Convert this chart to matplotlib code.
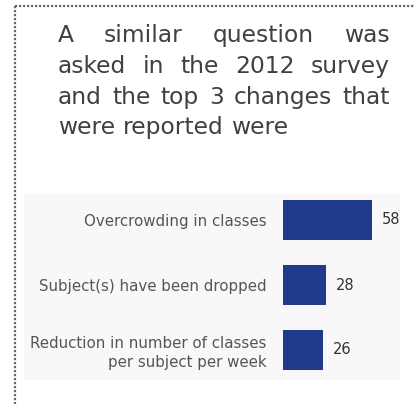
import matplotlib.pyplot as plt
from matplotlib.patches import Rectangle
from matplotlib.lines import Line2D

# survey responses (%)
categories = ['Overcrowding in classes',
              'Subject(s) have been dropped',
              'Reduction in number of classes\nper subject per week']
values = [58, 28, 26]

heading = ['A similar question was',
           'asked in the 2012 survey',
           'and the top 3 changes that',
           'were reported were']

W, H = 415, 404
fig = plt.figure(figsize=(W / 100, H / 100), dpi=100)

def fx(px):
    return px / W

def fy(py):
    return 1 - py / H

# dotted frame along top and left
frame = dict(color='#5b6d76', lw=1.6, linestyle=(0, (1, 0.8)))
fig.add_artist(Line2D([fx(15), 1.0], [fy(6), fy(6)], **frame))
fig.add_artist(Line2D([fx(15), fx(15)], [fy(6), 0.0], **frame))

# faint panel behind the chart
fig.add_artist(Rectangle((fx(24), fy(380)), fx(376), 186 / H,
                         color='#f8f8f8', zorder=0, lw=0))

# justified heading
renderer = fig.canvas.get_renderer()
left, right = 58, 390
baselines = [42, 73, 104, 134]
font = dict(fontsize=16.8, color='#404040', family='DejaVu Sans')
for k, (line, yb) in enumerate(zip(heading, baselines)):
    words = line.split()
    texts = [fig.text(0, fy(yb), w, va='baseline', **font) for w in words]
    widths = [t.get_window_extent(renderer).width for t in texts]
    if k < len(heading) - 1:
        gap = (right - left - sum(widths)) / (len(words) - 1)
    else:
        sp = fig.text(0, 0, ' ', alpha=0, **font)
        gap = sp.get_window_extent(renderer).width
    x = left
    for t, w in zip(texts, widths):
        t.set_x(fx(x))
        x += w + gap

# bar chart
ax = fig.add_axes([fx(283), 1 - 382.5 / H, 117 / W, 195 / H])
ypos = range(len(values))
bars = ax.barh(ypos, values, height=0.63, color='#1f3a8c')
ax.set_xlim(0, 117 / 1.535)
ax.set_ylim(2.5, -0.5)
ax.set_yticks(list(ypos))
ax.set_yticklabels(categories, fontsize=10.8, color='#555555',
                   family='DejaVu Sans', ha='right', linespacing=1.25)
ax.tick_params(axis='y', length=0, pad=12)
ax.set_xticks([])
for s in ax.spines.values():
    s.set_visible(False)
ax.patch.set_alpha(0)
ax.bar_label(bars, labels=[str(v) for v in values], padding=7,
             fontsize=10.5, color='#333333')

plt.savefig('out.png', dpi=100)
